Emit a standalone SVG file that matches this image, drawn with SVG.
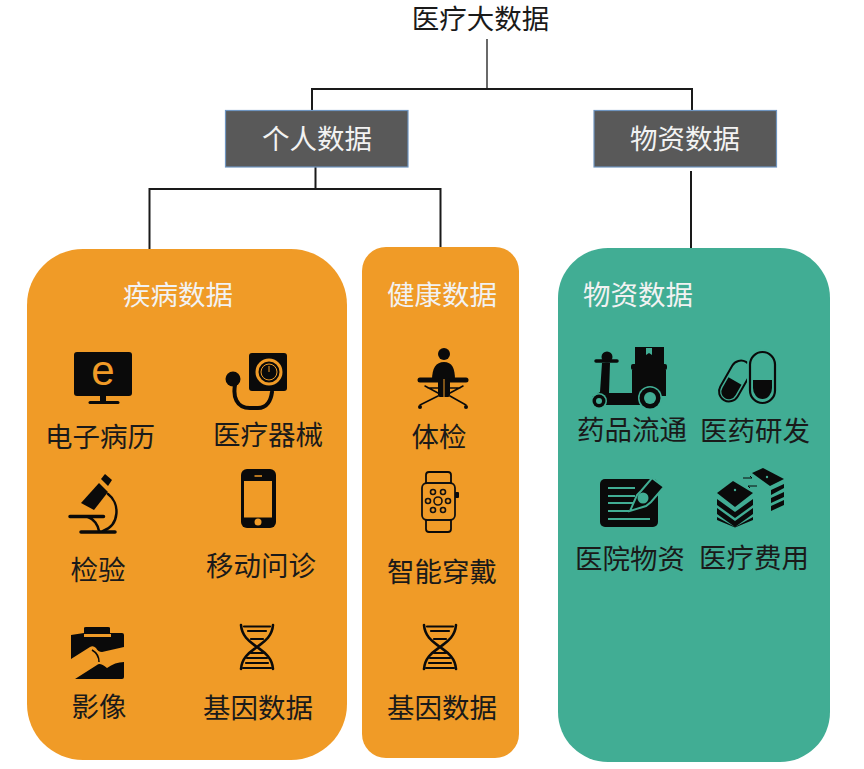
<svg xmlns="http://www.w3.org/2000/svg" width="864" height="769" viewBox="0 0 864 769">
<style>
text{font-family:"Noto Sans CJK SC","Liberation Sans",sans-serif;font-size:27.500px;font-weight:400;text-anchor:middle;fill:#1a1a1a}
.w{fill:#f2f2f2}
.box{fill:#595959;stroke:#6f95c0;stroke-width:1.2}
.c{fill:none;stroke:#1a1a1a;stroke-width:2}
.k{fill:#0a0a0a}
.ln{fill:none;stroke:#0a0a0a;stroke-linecap:round}
</style>
<defs>
<g id="dna">
<path class="ln" stroke-width="2.600" d="M1,0C2,13 12,18 17,22C22,26 32,31 33,44M33,0C32,13 22,18 17,22C12,26 2,31 1,44"/>
<path class="ln" stroke-width="2.200" d="M4,1.500H30M8,6H26M11,14H23M11,28H23M7,33H27M6,38H28M3,43H31"/>
</g>
</defs>
<rect width="864" height="769" fill="#fff"/>
<g id="connectors">
<path class="c" style="stroke-width:1.300" d="M487,39V89"/>
<path class="c" d="M312,110V89H692V110"/>
<path class="c" d="M315.500,167V189M149.500,250V189H440.500V247"/>
<path class="c" d="M691,171V248"/>
</g>
<g id="root"><text x="480.500" y="29">医疗大数据</text></g>
<g id="personal"><rect class="box" x="225.500" y="110.500" width="182.500" height="56.500"/><text class="w" x="317" y="149">个人数据</text></g>
<g id="material"><rect class="box" x="594" y="110.500" width="182.500" height="56.500"/><text class="w" x="685" y="149">物资数据</text></g>

<g id="disease">
<rect x="27" y="249" width="320" height="511" rx="56" fill="#f09b27"/>
<text class="w" x="178" y="305">疾病数据</text>
<g id="n-emr">
<rect class="k" x="74" y="352" width="58" height="44" rx="3"/>
<path class="k" d="M100,396h6v5h-6z"/><path class="ln" stroke-width="3" d="M90,402.500H118"/>
<text x="103" y="385" style="font-family:'Liberation Sans',sans-serif;font-size:42px;fill:#f09b27">e</text>
<text x="100" y="447">电子病历</text>
</g>
<g id="n-device">
<rect class="k" x="249" y="353" width="38" height="38" rx="3"/>
<circle cx="269" cy="372" r="12" fill="none" stroke="#f09b27" stroke-width="3"/>
<circle cx="269" cy="372" r="8" fill="none" stroke="#f09b27" stroke-width="1"/>
<path d="M269,372V366" stroke="#f09b27" stroke-width="1"/>
<circle class="k" cx="233" cy="379" r="7.500"/>
<path class="ln" stroke-width="4" d="M235,385C233,396 236,408 250,408H258C267,408 271,400 272,392"/>
<text x="268" y="445">医疗器械</text>
</g>
<g id="n-lab">
<path class="k" d="M81,503L99,483L108,492L94,510Z"/>
<path class="k" d="M105,474L112,480L108,486L101,479Z"/>
<path class="ln" stroke-width="3.500" d="M70,516.500H103.500M81,532H115"/>
<path class="ln" stroke-width="2.500" d="M108,494C120,503 120,525 103,531M88,517C94,519 98,525 99,531"/>
<text x="98" y="580">检验</text>
</g>
<g id="n-mobile">
<rect class="k" x="241" y="469" width="35" height="59" rx="6"/>
<rect x="244" y="481" width="28" height="36.500" fill="#f09b27"/>
<path d="M254.500,476H262" stroke="#f09b27" stroke-width="1.500"/>
<circle cx="258" cy="522" r="3.500" fill="#f09b27"/>
<text x="261" y="576">移动问诊</text>
</g>
<g id="n-image">
<path class="k" d="M71,635L84,633V628Q84,627 86,627H108Q110,627 110,628V633H122Q124,633 124,635V677Q124,679 122,679H71Z"/>
<path d="M84,635.500H111" stroke="#f09b27" stroke-width="3"/>
<path fill="#f09b27" d="M71,659L90,647Q93,645 96,648Q98,652 102,652L124,647V662Q115,662 107,668Q100,662 97,665L75,679H71Z"/>
<path fill="none" stroke="#0a0a0a" stroke-width="1.500" d="M92,650Q99,654 99,662"/>
<text x="99" y="717">影像</text>
</g>
<use id="n-gene1" href="#dna" x="240" y="625"/>
<text id="t-gene1" x="258" y="718">基因数据</text>
</g>

<g id="health">
<rect x="362" y="247" width="157" height="511" rx="24" fill="#f09b27"/>
<text class="w" x="442" y="305">健康数据</text>
<g id="n-exam">
<circle class="k" cx="444" cy="354" r="6"/>
<path class="k" d="M432,380C432,368 436,362 444,362C452,362 455,368 455,380Z"/>
<path class="ln" stroke-width="5" d="M420,380H466"/>
<rect class="k" x="438" y="378" width="12" height="19" rx="2"/>
<path d="M444,379V397" stroke="#f09b27" stroke-width="1"/>
<path class="ln" stroke-width="1.500" d="M425,386L438,393M463,386L450,393M428,388H438M460,388H450M420,405L438,396M466,405L450,396"/>
<circle class="k" cx="420" cy="407" r="2"/><circle class="k" cx="466" cy="407" r="2"/>
<text x="439" y="447">体检</text>
</g>
<g id="n-watch">
<rect x="422" y="483" width="33" height="37" rx="5" fill="none" stroke="#111" stroke-width="1.800"/>
<path class="ln" stroke-width="1.800" d="M426,483V475Q426,472 429,472H448Q451,472 451,475V483M426,520V529Q426,532 429,532H448Q451,532 451,529V520"/>
<rect class="k" x="455" y="492" width="4" height="6" rx="1"/>
<g fill="none" stroke="#111" stroke-width="1.600">
<circle cx="438" cy="501" r="4"/><circle cx="433" cy="492" r="2.500"/><circle cx="443" cy="492" r="2.500"/><circle cx="428" cy="501" r="2.500"/><circle cx="448" cy="501" r="2.500"/><circle cx="433" cy="510" r="2.500"/><circle cx="443" cy="510" r="2.500"/>
</g>
<text x="442" y="582">智能穿戴</text>
</g>
<use id="n-gene2" href="#dna" x="423" y="625"/>
<text id="t-gene2" x="442" y="718">基因数据</text>
</g>

<g id="supply">
<rect x="558" y="248" width="272" height="514" rx="50" fill="#41ad94"/>
<text class="w" x="638" y="305">物资数据</text>
<g id="n-scooter">
<rect class="k" x="635" y="347" width="29" height="17"/>
<path d="M646,348V355L649,353L652,355V348Z" fill="#41ad94"/>
<rect class="k" x="631" y="364" width="36" height="6" rx="2"/>
<path class="k" d="M632,370H666V396H640V405H606Q603,396 592,397L600,392L602,363H610L609,393H632Z"/>
<path class="ln" stroke-width="3.500" d="M596,361H617"/>
<circle class="k" cx="607" cy="357" r="5.500"/>
<circle cx="599" cy="401" r="8" fill="#41ad94"/>
<circle cx="599" cy="401" r="6.500" class="k"/><circle cx="599" cy="401" r="3" fill="#41ad94"/>
<circle cx="650" cy="398" r="12" fill="#41ad94"/>
<circle cx="650" cy="398" r="10.500" class="k"/><circle cx="650" cy="398" r="6" fill="#41ad94"/>
<text x="632" y="440">药品流通</text>
</g>
<g id="n-pills">
<g transform="rotate(30 735 381)">
<rect x="725" y="359" width="20" height="44" rx="10" fill="none" stroke="#0a0a0a" stroke-width="2"/>
<path class="k" d="M727.500,381H742.500V393A7.500,8 0 0 1 727.500,393Z"/>
</g>
<rect x="750" y="352" width="25" height="51" rx="12.500" fill="#41ad94" stroke="#41ad94" stroke-width="6"/>
<rect x="750" y="352" width="25" height="51" rx="12.500" fill="none" stroke="#0a0a0a" stroke-width="2.200"/>
<path class="k" d="M753,380H772V388A9.500,11 0 0 1 753,388Z"/>
<text x="755" y="441">医药研发</text>
</g>
<g id="n-doc">
<rect class="k" x="600" y="479" width="58" height="48" rx="5"/>
<path fill="none" stroke="#41ad94" stroke-width="1.800" d="M608,488H635M608,496H635M608,503H635M608,511H629M608,519H650"/>
<path d="M652,478L664,487L651,502L646,506L630,511L637,495L641,491Z" fill="#0a0a0a" stroke="#41ad94" stroke-width="2"/>
<circle cx="643" cy="498" r="5.500" fill="#41ad94"/>
<text x="630" y="569">医院物资</text>
</g>
<g id="n-money">
<path class="k" d="M717,493L733,481L753,493L735,507Z"/>
<path class="k" d="M717,499L735,512L753,499V505L735,518L717,505ZM717,508L735,521L753,508V514L735,527L717,514ZM717,517L735,527L753,517V520L735,527.500L717,520Z"/>
<path class="k" d="M752,473L763,468L784,479L770,486Z"/>
<path class="k" d="M771,490L784,484V488L771,495ZM771,498L784,492V497L771,503ZM771,506L784,500V505L771,511Z"/>
<circle cx="735" cy="490" r="1.200" fill="#41ad94"/><circle cx="767" cy="477" r="1.200" fill="#41ad94"/>
<path fill="none" stroke="#0a0a0a" stroke-width="1" d="M743,478H752L750,476M757,486H748L750,488"/>
<text x="754" y="568">医疗费用</text>
</g>
</g>
</svg>
